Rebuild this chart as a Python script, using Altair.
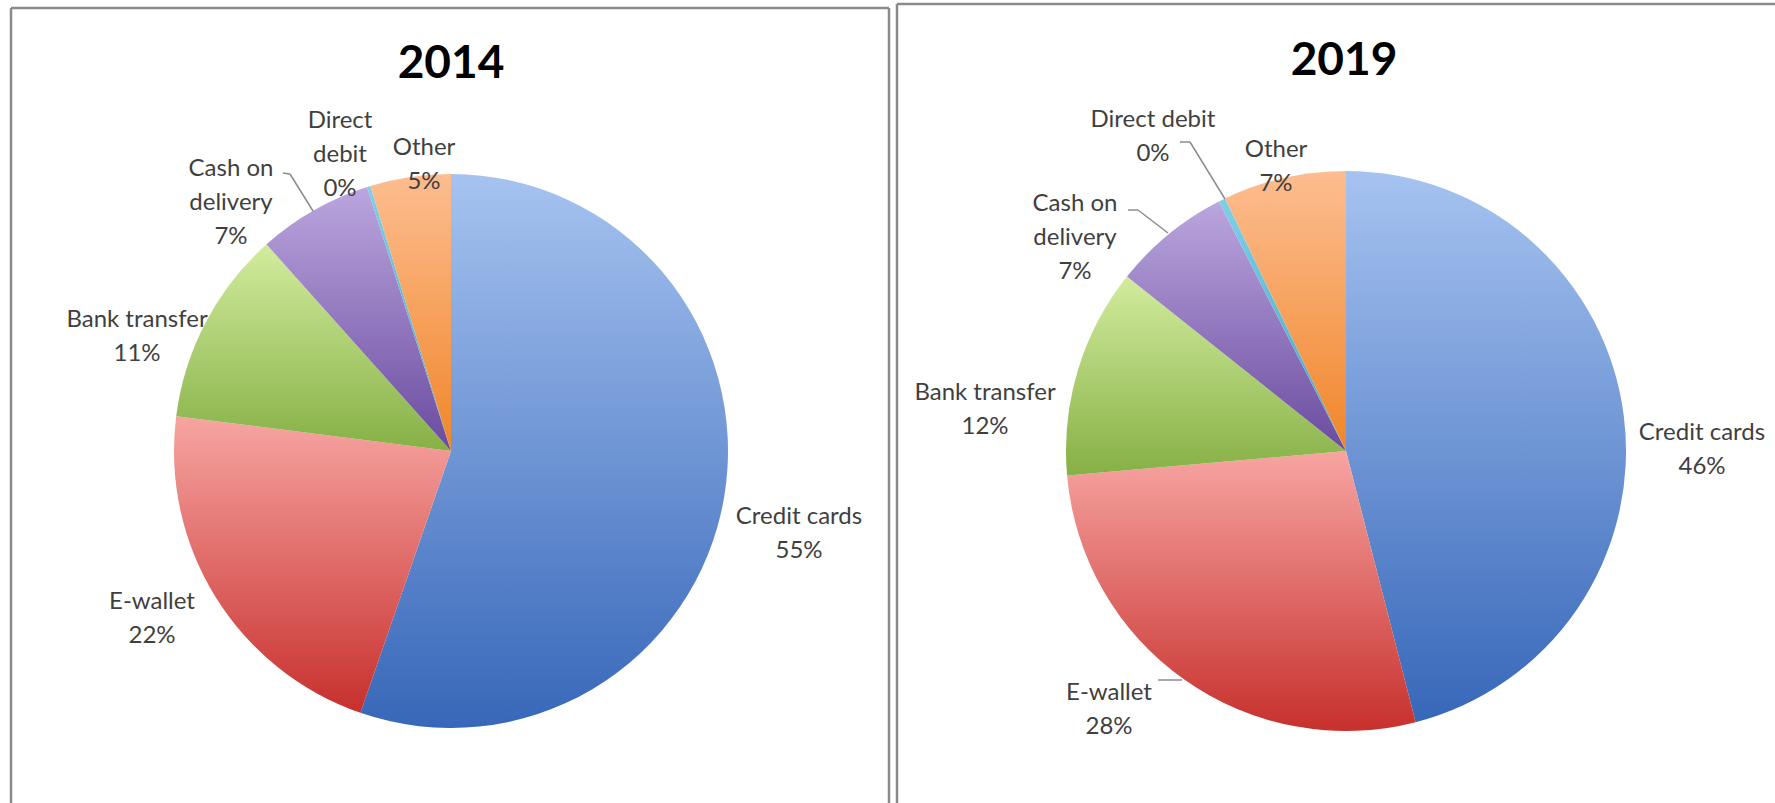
import altair as alt
import pandas as pd

# ---------------- data ----------------
categories = ["Credit cards", "E-wallet", "Bank transfer", "Cash on delivery", "Direct debit", "Other"]
order = [1, 2, 3, 4, 5, 6]
share_2014 = [55.3, 21.7, 11.4, 6.7, 0.2, 4.7]
share_2019 = [46.0, 27.6, 12.1, 6.8, 0.4, 7.1]
label_names_2014 = ["Credit cards", "E-wallet", "Bank transfer", "Cash on\ndelivery", "Direct\ndebit", "Other"]
label_names_2019 = ["Credit cards", "E-wallet", "Bank transfer", "Cash on\ndelivery", "Direct debit", "Other"]
years = ["2014", "2019"]

# ---------------- styles / layout ----------------
GRADIENTS = {
    "Credit cards": ("#A6C3F0", "#3767B9"),
    "E-wallet": ("#F7A5A2", "#C7302D"),
    "Bank transfer": ("#D2EC9E", "#86B045"),
    "Cash on delivery": ("#BBA6DE", "#6A4B9F"),
    "Direct debit": ("#7FD0E6", "#3FA6C4"),
    "Other": ("#FDBD90", "#F0862A"),
}
PIE = {"2014": (451, 451, 277), "2019": (1346, 451, 280)}
TITLE_POS = {"2014": (451, 64), "2019": (1344, 61)}
LABEL_POS = {
    "2014": {"Credit cards": (799, 517), "E-wallet": (152, 602), "Bank transfer": (137, 320),
             "Cash on delivery": (231, 169), "Direct debit": (340, 121), "Other": (424, 148)},
    "2019": {"Credit cards": (1702, 433), "E-wallet": (1109, 693), "Bank transfer": (985, 393),
             "Cash on delivery": (1075, 204), "Direct debit": (1153, 120), "Other": (1276, 150)},
}
LEADERS = [
    (283, 173, 290, 174), (290, 174, 313, 211),          # 2014 cash on delivery
    (1128, 210, 1138, 210), (1138, 210, 1168, 233),      # 2019 cash on delivery
    (1180, 142, 1190, 142), (1190, 142, 1225, 199),      # 2019 direct debit
    (1158, 680, 1182, 680),                              # 2019 e-wallet
]
BORDERS = [
    (11, 8, 889, 8), (11, 8, 11, 803), (889, 8, 889, 803),
    (897, 4, 1775, 4), (897, 4, 897, 803),
]
FONT = "Lato"
TEXT_COLOR = "#3F3F3F"

shares = {"2014": share_2014, "2019": share_2019}
names = {"2014": label_names_2014, "2019": label_names_2019}

layers = []
dummy = pd.DataFrame({"d": [0]})

for yr in years:
    vals = shares[yr]
    df = pd.DataFrame({
        "category": categories,
        "order": order,
        "value": vals,
        "label": [f"{n}\n{round(v):d}%" for n, v in zip(names[yr], vals)],
    })
    total = sum(vals)
    cx, cy, r = PIE[yr]
    base = alt.Chart(df).transform_stack(
        stack="value", groupby=[], as_=["v0", "v1"],
        sort=[alt.SortField("order", order="ascending")],
    )
    for cat in categories:
        top, bottom = GRADIENTS[cat]
        grad = alt.LinearGradient(
            gradient="linear", x1=0, x2=0, y1=0, y2=1,
            stops=[alt.GradientStop(offset=0, color=top), alt.GradientStop(offset=1, color=bottom)],
        )
        arc = base.transform_filter(alt.datum.category == cat).mark_arc(
            radius=r, fill=grad, strokeWidth=0
        ).encode(
            theta=alt.Theta("v0:Q", stack=False, scale=alt.Scale(domain=[0, total])),
            theta2="v1:Q",
            x=alt.value(cx),
            y=alt.value(cy),
        )
        layers.append(arc)
    for cat in categories:
        lx, ly = LABEL_POS[yr][cat]
        txt = alt.Chart(df).transform_filter(alt.datum.category == cat).mark_text(
            font=FONT, fontSize=24, color=TEXT_COLOR, align="center", baseline="middle",
            lineBreak="\n", lineHeight=34,
        ).encode(text="label:N", x=alt.value(lx), y=alt.value(ly))
        layers.append(txt)
    tx, ty = TITLE_POS[yr]
    layers.append(
        alt.Chart(pd.DataFrame({"t": [yr]})).mark_text(
            font=FONT, fontSize=46, fontWeight="bold", color="#000000",
            align="center", baseline="middle",
        ).encode(text="t:N", x=alt.value(tx), y=alt.value(ty))
    )

for (x1, y1, x2, y2) in LEADERS:
    layers.append(
        alt.Chart(dummy).mark_rule(color="#8C8C8C", strokeWidth=1.5).encode(
            x=alt.value(x1), y=alt.value(y1), x2=alt.value(x2), y2=alt.value(y2)
        )
    )
for (x1, y1, x2, y2) in BORDERS:
    layers.append(
        alt.Chart(dummy).mark_rule(color="#8A8A8A", strokeWidth=2.5).encode(
            x=alt.value(x1), y=alt.value(y1), x2=alt.value(x2), y2=alt.value(y2)
        )
    )

chart = alt.layer(*layers).properties(
    width=1775, height=803, padding=0, autosize="none", background="white"
).configure_view(stroke=None)

chart.save("out.html", embed_options={"renderer": "svg", "actions": False})
